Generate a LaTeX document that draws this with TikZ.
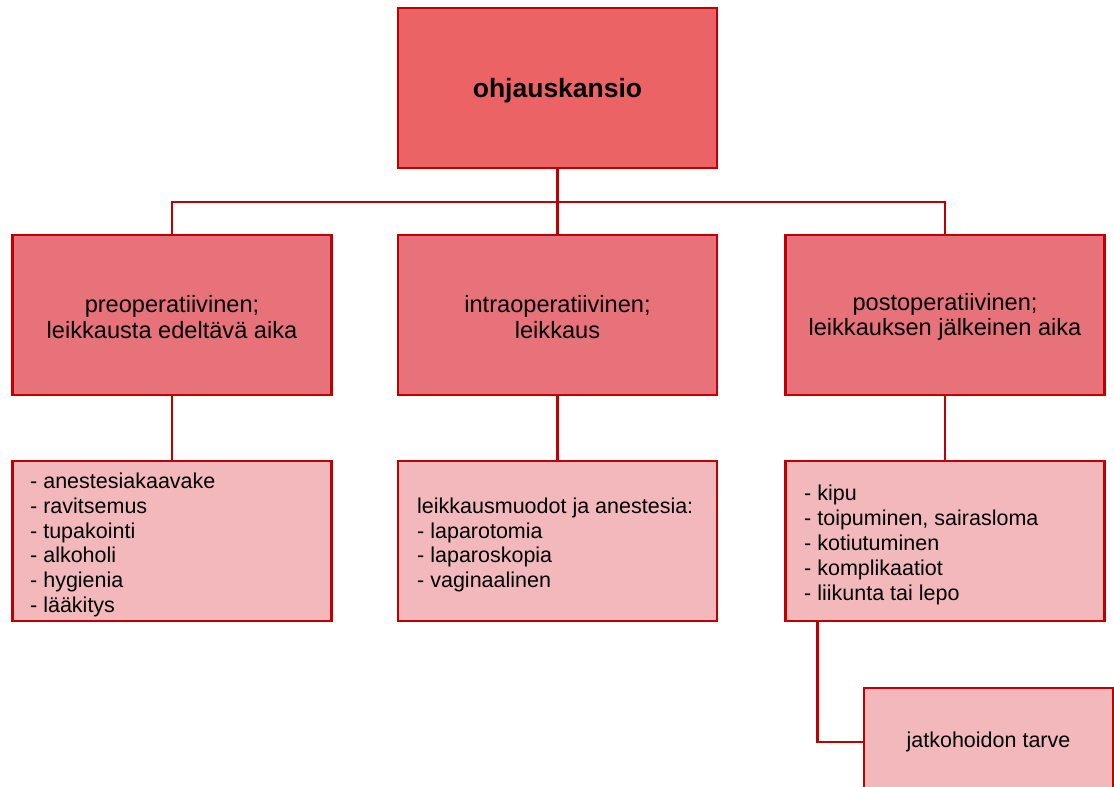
\documentclass[tikz,border=0pt]{standalone}
\usepackage{fontspec}
\setmainfont{Liberation Sans}
\definecolor{edge}{HTML}{C00000}
\definecolor{topfill}{HTML}{EB6365}
\definecolor{midfill}{HTML}{E8727A}
\definecolor{lowfill}{HTML}{F3B8BC}
\begin{document}
\begin{tikzpicture}[x=1pt,y=-1pt,
  box/.style={draw=edge,line width=2.6pt,minimum width=319pt,minimum height=160pt,inner sep=0pt,anchor=center},
  topbox/.style={box,fill=topfill},
  midbox/.style={box,fill=midfill},
  lowbox/.style={box,fill=lowfill},
  toptext/.style={inner sep=0pt,font=\fontsize{26.5}{30}\selectfont\bfseries},
  midtext/.style={inner sep=0pt,align=center,font=\fontsize{23.6}{25.5}\selectfont},
  listtext/.style={anchor=west,align=left,inner sep=0pt,font=\fontsize{21.5}{24.8}\selectfont},
  link/.style={draw=edge,line width=2.6pt}]
\useasboundingbox (0,0) rectangle (1114,787);
\node[topbox] (top) at (557.5,88) {};
\node[toptext] (topt) at (557.5,91) {ohjauskansio};
\node[midbox] (pre) at (172,315) {};
\node[midbox] (intra) at (557.5,315) {};
\node[midbox] (post) at (945,315) {};
\node[midtext] (pret0) at (172,317) {preoperatiivinen;\\leikkausta edeltävä aika};
\node[midtext] (intrat0) at (557.5,317) {intraoperatiivinen;\\leikkaus};
\node[midtext] (postt0) at (945,317) {postoperatiivinen;\\leikkauksen jälkeinen aika};
\node[lowbox] (prel) at (172,541) {};
\node[lowbox] (intral) at (557.5,541) {};
\node[lowbox] (postl) at (945,541) {};
\node[listtext] (pret) at (30,545) {- anestesiakaavake\\- ravitsemus\\- tupakointi\\- alkoholi\\- hygienia\\- lääkitys};
\node[listtext] (intrat) at (417,545) {leikkausmuodot ja anestesia:\\- laparotomia\\- laparoskopia\\- vaginaalinen};
\node[listtext] (postt) at (804,545) {- kipu\\- toipuminen, sairasloma\\- kotiutuminen\\- komplikaatiot\\- liikunta tai lepo};
\node[draw=edge,line width=2.6pt,fill=lowfill,minimum width=249pt,minimum height=108pt,inner sep=0pt] (jatko) at (988.5,742) {};
\node[inner sep=0pt,font=\fontsize{21.5}{25}\selectfont] (jatkot) at (988.5,742) {jatkohoidon tarve};
\coordinate (bus) at (557.5,202);
\draw[link] (top.south) -- (bus);
\draw[link] (pre.north) |- (bus) -| (post.north);
\draw[link] (bus) -- (intra.north);
\draw[link] (pre.south) -- (prel.north);
\draw[link] (intra.south) -- (intral.north);
\draw[link] (post.south) -- (postl.north);
\draw[link] ([xshift=33pt]postl.south west) |- (jatko.west);
\end{tikzpicture}
\end{document}
